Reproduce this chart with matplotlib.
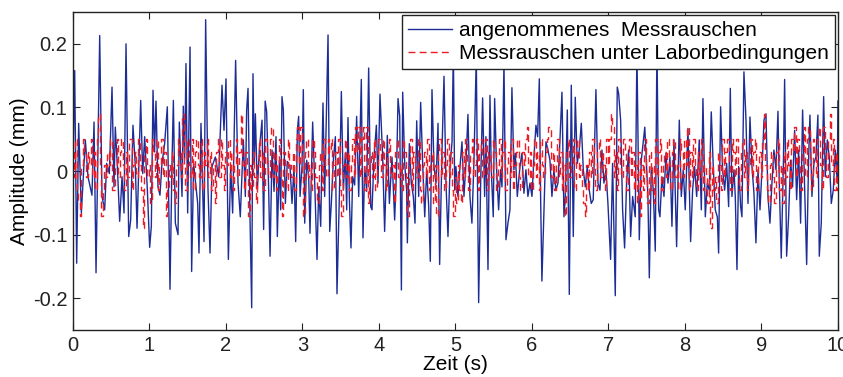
import numpy as np
import matplotlib
matplotlib.use("Agg")
import matplotlib.pyplot as plt

plt.rcParams['font.family'] = ['Liberation Sans', 'DejaVu Sans']

# Assumed measurement noise: vertices of the trace (time in s, amplitude in mm)
blue_t = [
    0.000, 0.022, 0.048, 0.074, 0.109, 0.161, 0.196, 0.248, 0.275, 0.301,
    0.349, 0.379, 0.414, 0.440, 0.475, 0.510, 0.536, 0.553, 0.580, 0.610,
    0.641, 0.667, 0.693, 0.728, 0.754, 0.784, 0.815, 0.837, 0.885, 0.911,
    0.937, 0.972, 1.002, 1.024, 1.046, 1.066, 1.085, 1.111, 1.137, 1.163,
    1.198, 1.233, 1.268, 1.294, 1.312, 1.338, 1.373, 1.390, 1.425, 1.442,
    1.460, 1.477, 1.499, 1.530, 1.551, 1.577, 1.630, 1.647, 1.673, 1.713,
    1.734, 1.765, 1.791, 1.817, 1.861, 1.904, 1.948, 1.974, 2.000, 2.031,
    2.061, 2.087, 2.126, 2.157, 2.187, 2.227, 2.253, 2.270, 2.288, 2.314,
    2.336, 2.353, 2.370, 2.384, 2.410, 2.436, 2.471, 2.492, 2.512, 2.532,
    2.558, 2.576, 2.602, 2.628, 2.654, 2.671, 2.698, 2.715, 2.732, 2.750,
    2.776, 2.802, 2.837, 2.863, 2.889, 2.911, 2.933, 2.950, 2.968, 2.994,
    3.011, 3.029, 3.055, 3.081, 3.098, 3.133, 3.160, 3.190, 3.212, 3.238,
    3.268, 3.290, 3.334, 3.356, 3.377, 3.403, 3.430, 3.451, 3.482, 3.508,
    3.534, 3.560, 3.578, 3.595, 3.613, 3.634, 3.656, 3.682, 3.708, 3.735,
    3.769, 3.791, 3.813, 3.839, 3.865, 3.892, 3.909, 3.935, 3.966, 3.987,
    4.013, 4.048, 4.074, 4.109, 4.136, 4.170, 4.205, 4.231, 4.249, 4.271,
    4.293, 4.310, 4.336, 4.362, 4.371, 4.397, 4.423, 4.449, 4.471, 4.493,
    4.519, 4.545, 4.571, 4.598, 4.624, 4.650, 4.671, 4.693, 4.719, 4.746,
    4.772, 4.793, 4.824, 4.850, 4.876, 4.902, 4.929, 4.955, 4.972, 4.990,
    5.006, 5.032, 5.059, 5.085, 5.111, 5.137, 5.163, 5.189, 5.215, 5.242,
    5.272, 5.303, 5.329, 5.355, 5.381, 5.398, 5.425, 5.451, 5.468, 5.494,
    5.512, 5.538, 5.564, 5.590, 5.608, 5.634, 5.660, 5.686, 5.712, 5.738,
    5.764, 5.782, 5.808, 5.843, 5.869, 5.895, 5.921, 5.947, 5.974, 6.000,
    6.026, 6.052, 6.074, 6.096, 6.113, 6.130, 6.157, 6.183, 6.209, 6.235,
    6.261, 6.287, 6.313, 6.340, 6.366, 6.392, 6.418, 6.436, 6.462, 6.488,
    6.514, 6.540, 6.566, 6.592, 6.618, 6.645, 6.671, 6.697, 6.723, 6.749,
    6.775, 6.801, 6.836, 6.863, 6.889, 6.915, 6.941, 6.967, 6.993, 7.028,
    7.054, 7.089, 7.115, 7.133, 7.159, 7.185, 7.211, 7.237, 7.263, 7.290,
    7.316, 7.350, 7.372, 7.403, 7.429, 7.475, 7.516, 7.534, 7.560, 7.586,
    7.612, 7.634, 7.656, 7.673, 7.699, 7.726, 7.752, 7.778, 7.804, 7.830,
    7.856, 7.891, 7.926, 7.952, 7.978, 8.004, 8.039, 8.074, 8.100, 8.126,
    8.153, 8.187, 8.214, 8.235, 8.266, 8.292, 8.318, 8.344, 8.370, 8.396,
    8.423, 8.440, 8.466, 8.492, 8.519, 8.545, 8.571, 8.593, 8.614, 8.641,
    8.658, 8.680, 8.702, 8.728, 8.745, 8.771, 8.798, 8.824, 8.850, 8.876,
    8.902, 8.928, 8.955, 8.981, 9.007, 9.033, 9.059, 9.085, 9.111, 9.137,
    9.163, 9.190, 9.216, 9.233, 9.259, 9.286, 9.303, 9.329, 9.355, 9.381,
    9.407, 9.434, 9.460, 9.486, 9.512, 9.538, 9.564, 9.591, 9.617, 9.634,
    9.660, 9.686, 9.712, 9.738, 9.756, 9.782, 9.813, 9.834, 9.861, 9.887,
    9.913, 9.939, 9.965, 9.991, 10.000,
]
blue_v = [
    0.020, 0.158, -0.145, 0.075, -0.066, 0.049, -0.009, -0.038, 0.077, -0.160,
    0.213, -0.040, -0.061, 0.012, -0.004, 0.132, -0.025, 0.069, 0.007, -0.079,
    -0.009, -0.066, 0.200, -0.103, -0.077, 0.072, 0.007, -0.090, 0.111, -0.004,
    0.054, -0.030, -0.120, -0.087, 0.127, 0.030, 0.110, -0.025, -0.038, 0.012,
    0.043, 0.101, -0.186, 0.012, 0.111, -0.082, -0.100, 0.077, -0.040, 0.102,
    0.020, 0.169, -0.066, 0.195, -0.158, 0.012, -0.051, -0.129, 0.075, -0.111,
    0.238, -0.030, -0.129, 0.007, 0.022, -0.009, 0.135, 0.064, 0.145, -0.139,
    0.007, -0.066, 0.174, -0.019, -0.072, 0.049, -0.040, 0.096, 0.130, -0.074,
    -0.215, 0.153, 0.010, 0.090, -0.030, 0.033, 0.080, -0.092, 0.110, 0.093,
    -0.030, -0.134, 0.033, -0.032, 0.054, -0.103, 0.017, -0.061, 0.117, 0.096,
    -0.051, 0.015, 0.007, -0.051, 0.007, -0.111, 0.064, 0.086, -0.040, 0.007,
    0.128, -0.082, 0.017, -0.009, -0.098, 0.077, -0.019, -0.139, -0.025, -0.087,
    0.107, -0.040, 0.214, -0.095, -0.051, 0.017, 0.054, -0.193, -0.040, 0.125,
    -0.030, 0.028, -0.061, 0.084, -0.045, -0.121, -0.009, -0.022, 0.086, -0.040,
    0.144, -0.105, 0.007, -0.032, 0.162, -0.056, -0.061, 0.022, 0.072, -0.019,
    0.121, 0.022, -0.095, 0.056, -0.051, 0.022, -0.077, 0.007, 0.114, 0.086,
    -0.187, 0.124, 0.012, -0.032, -0.113, 0.043, -0.019, -0.040, -0.082, 0.079,
    -0.040, 0.108, 0.012, -0.072, 0.002, -0.056, -0.142, 0.128, 0.007, -0.019,
    0.075, -0.147, 0.033, 0.149, -0.019, -0.103, 0.007, 0.046, 0.190, -0.030,
    0.007, -0.040, 0.007, 0.046, -0.040, 0.012, 0.089, -0.040, -0.082, 0.017,
    0.180, -0.207, -0.019, 0.115, -0.040, 0.054, -0.155, 0.119, 0.002, -0.072,
    0.114, 0.002, -0.061, 0.002, -0.025, 0.170, -0.108, -0.082, -0.061, 0.131,
    0.002, 0.028, -0.040, 0.007, 0.028, -0.035, 0.002, -0.040, -0.019, -0.040,
    0.022, 0.072, 0.054, 0.145, -0.040, -0.173, -0.061, 0.046, 0.033, 0.017,
    -0.040, 0.002, -0.030, -0.019, 0.049, 0.124, -0.072, -0.040, 0.096, -0.194,
    0.135, -0.103, 0.116, 0.012, 0.033, 0.075, 0.002, -0.025, 0.007, -0.030,
    -0.051, -0.045, 0.128, -0.019, -0.030, 0.033, -0.019, 0.002, -0.051, -0.139,
    0.012, -0.196, 0.132, 0.122, 0.080, -0.061, -0.121, -0.019, 0.033, -0.103,
    -0.040, -0.072, 0.190, -0.108, 0.017, 0.069, -0.040, -0.168, 0.007, -0.030,
    -0.126, 0.200, -0.061, -0.072, -0.009, -0.040, 0.028, -0.019, 0.022, -0.087,
    0.049, -0.119, 0.080, -0.040, 0.002, -0.061, 0.067, -0.111, -0.030, 0.007,
    -0.040, 0.049, -0.061, 0.114, -0.072, -0.019, -0.030, 0.093, 0.007, -0.061,
    -0.072, -0.129, 0.101, 0.002, -0.030, 0.012, -0.056, 0.130, -0.040, 0.002,
    -0.040, -0.155, 0.007, -0.056, -0.072, 0.156, 0.080, -0.051, 0.085, 0.007,
    -0.035, -0.113, 0.002, -0.061, 0.002, 0.080, 0.090, -0.040, -0.082, -0.019,
    0.033, 0.002, 0.094, -0.019, -0.137, 0.007, 0.144, -0.134, -0.072, 0.017,
    -0.025, 0.064, -0.045, 0.033, -0.082, 0.096, -0.025, -0.147, 0.022, 0.088,
    -0.040, 0.012, 0.022, 0.088, -0.134, -0.082, 0.117, -0.009, 0.049, 0.022,
    -0.051, -0.030, 0.033, -0.019, 0.110,
]

# Noise under laboratory conditions, sampled at 50 Hz, in units of 0.01 mm
lab_rate_hz = 50
lab_counts = [
    3, -1, 5, -3, -5, -7, 1, 5, 3, -1, 3, 1, 5, -1, 3, -3, 5, 9, 1, -7,
    -3, 1, -1, 3, 1, 5, -3, -3, 1, 5, -1, 3, 5, 1, -3, 3, -1, 5, 5, -3,
    1, 3, -1, 5, 1, -3, -9, 3, 5, -1,
    1, -5, 5, 3, -1, 5, -3, 1, 5, -1, 3, -7, -3, 1, -1, 3, -3, -5, 1, 5,
    3, -1, 9, 1, -3, 5, 1, -1, 5, -3, 3, 5, 1, -1, 5, -3, 3, 1, 5, -1,
    3, -3, 1, -5, 3, 5, -1, 5, 1, -3,
    3, 1, 5, -1, 3, -3, 1, 5, -1, 3, 9, 1, -3, 3, -1, -7, 1, -3, 3, -1,
    -5, 1, 5, -1, 3, -3, 5, 1, -1, 5, 7, -1, 3, -3, 1, 5, -1, -7, 3, 1,
    -3, 5, 1, -1, 3, -3, 5, 7, 1, 7,
    -1, -7, 3, 5, -1, 1, -3, 5, 3, -1, -5, 1, 3, -3, 5, 1, -1, 5, 3, 5,
    -3, 1, 3, -1, 5, -3, -7, 1, 5, -1, 3, -3, 1, 5, -1, 7, 3, 7, -1, 5,
    7, -3, 7, -5, 1, 3, -1, 5, -3, 1,
    5, 3, -1, 5, 1, -3, 3, 5, -1, 1, -5, 3, 5, -1, 1, -3, 5, 3, -1, -7,
    1, 5, -3, 3, 1, -1, 5, -3, -5, 1, 3, -1, 5, -3, 1, 3, -5, 1, -7, 3,
    5, -1, 3, -3, 1, 5, -1, 3, -3, -7,
    -1, -5, 1, -3, -5, 3, -1, 5, 1, -3, 3, 5, -1, 1, 5, -3, 3, 5, -1, 1,
    5, -3, 3, 1, -1, 5, 3, -3, 1, 5, -1, 3, 5, -3, 1, 3, -1, 5, -3, 1,
    3, 5, -1, -3, 3, 1, 5, 7, -1, 3,
    -3, 1, 5, -1, 3, -3, 5, 1, -1, 3, 5, 7, 7, -1, 3, -3, 1, 5, -1, 3,
    -3, 1, -7, 3, 5, -1, 1, 5, -3, 3, 5, -1, 1, -3, -5, -7, 1, -3, 3, -1,
    5, 1, -3, 3, 5, -1, 3, 1, -3, 5,
    1, 5, 9, 7, -1, 3, -3, 5, 1, -1, 5, 3, -3, 1, 5, -1, 3, -3, 1, -5,
    3, -7, 1, -3, 5, -1, -5, 3, -3, 1, -5, 5, -1, 3, 5, -3, 1, 3, -1, 5,
    1, -3, 3, 5, -1, 1, -3, 5, 3, -1,
    5, 1, 7, -3, 3, -1, 5, 1, -3, 3, -1, 5, -3, 1, -1, -5, 3, -9, 1, -3,
    -1, -5, 3, 1, -3, 5, -1, 3, 5, 1, -3, 5, 3, -1, 5, 1, -3, 3, 5, -1,
    3, -3, 1, 5, -1, 3, 5, -3, 1, 3,
    -1, 5, 9, 1, -3, -5, 1, 3, -1, -5, 3, 5, -3, 1, -5, 3, -1, 5, 1, -3,
    5, 3, 7, -1, 5, 1, -3, 3, 7, -1, 5, 7, 1, -3, 5, 3, -1, 5, 7, 1,
    -3, 7, 3, -1, 5, 9, 1, 5, -3, 3,
    -3,
]

x_ticks = [0, 1, 2, 3, 4, 5, 6, 7, 8, 9, 10]
y_ticks = [-0.2, -0.1, 0.0, 0.1, 0.2]
y_tick_labels = ["-0.2", "-0.1", "0", "0.1", "0.2"]

lab_v = np.array(lab_counts) * 0.01
lab_t = np.arange(len(lab_v)) / lab_rate_hz

fig = plt.figure(figsize=(8.43, 3.77), dpi=100)
ax = fig.add_axes([0.0866, 0.1247, 0.9074, 0.8433])

ax.plot(blue_t, blue_v, color='#1c2d96', lw=1.0,
        label='angenommenes  Messrauschen')
ax.plot(lab_t, lab_v, color='#ee1c25', lw=1.0, ls=(0, (5, 3)),
        drawstyle='steps-mid',
        label='Messrauschen unter Laborbedingungen')

ax.set_xlim(0, 10)
ax.set_ylim(-0.25, 0.25)
ax.set_xticks(x_ticks)
ax.set_xticklabels([str(v) for v in x_ticks])
ax.set_yticks(y_ticks)
ax.set_yticklabels(y_tick_labels)
ax.tick_params(direction='in', length=5, width=0.8, top=True, right=True,
               labelsize=14.5, colors='#222222', pad=4)
for s in ax.spines.values():
    s.set_linewidth(1.0)
    s.set_color('#222222')

ax.set_xlabel('Zeit (s)', fontsize=15, labelpad=0)
ax.set_ylabel('Amplitude (mm)', fontsize=15, labelpad=3)

leg = ax.legend(loc='upper right', fontsize=15, fancybox=False,
                framealpha=1, edgecolor='#222222', borderaxespad=0.12,
                handlelength=2.1, handletextpad=0.35, borderpad=0.3,
                labelspacing=0.2)
leg.get_frame().set_linewidth(1.0)

fig.savefig('out.png', dpi=100)
